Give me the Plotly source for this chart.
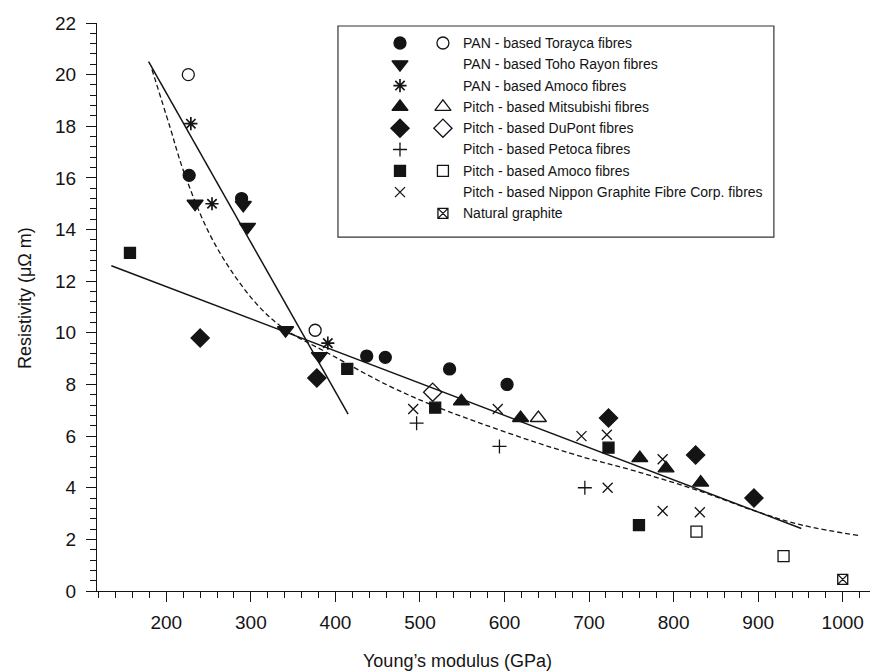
import plotly.graph_objects as go

# ---------------- data ----------------
torayca_x = [227, 289, 437, 459, 535, 603]
torayca_y = [16.1, 15.2, 9.1, 9.05, 8.6, 8.0]
torayca_open_x = [226, 376]
torayca_open_y = [20.0, 10.1]

toho_x = [234, 291, 296, 341, 381]
toho_y = [15.0, 14.95, 14.1, 10.1, 9.1]

pan_amoco_x = [229, 254, 391]
pan_amoco_y = [18.1, 15.0, 9.6]

mitsu_x = [549, 619, 760, 791, 832]
mitsu_y = [7.35, 6.7, 5.15, 4.75, 4.2]
mitsu_open_x = [640]
mitsu_open_y = [6.7]

dupont_x = [240, 378, 723, 826, 895]
dupont_y = [9.8, 8.25, 6.7, 5.27, 3.6]
dupont_open_x = [515]
dupont_open_y = [7.7]

petoca_x = [496, 594, 695]
petoca_y = [6.5, 5.6, 4.0]

pitch_amoco_x = [157, 414, 518, 723, 759]
pitch_amoco_y = [13.1, 8.6, 7.1, 5.55, 2.55]
pitch_amoco_open_x = [827, 930]
pitch_amoco_open_y = [2.3, 1.35]

nippon_x = [492, 592, 691, 721, 722, 787, 787, 831]
nippon_y = [7.05, 7.05, 6.0, 6.05, 4.0, 5.1, 3.1, 3.05]

graphite_x = [1000]
graphite_y = [0.45]

# fitted lines
steep_x = [179, 415]
steep_y = [20.5, 6.85]
shallow_x = [135, 951]
shallow_y = [12.6, 2.42]
dashed_x = [183, 204, 220, 250, 281, 313, 342, 392, 463, 534, 676, 754, 833, 896, 952, 1019]
dashed_y = [20.2, 18.0, 16.3, 13.9, 12.2, 10.9, 10.1, 9.2, 7.95, 6.95, 5.35, 4.65, 3.85, 3.1, 2.55, 2.15]

x_ticks = [200, 300, 400, 500, 600, 700, 800, 900, 1000]
y_ticks = [0, 2, 4, 6, 8, 10, 12, 14, 16, 18, 20, 22]

legend_rows = [
    ("circle", "circle-open", "PAN - based Torayca fibres"),
    ("triangle-down", None, "PAN - based Toho Rayon fibres"),
    ("asterisk-open", None, "PAN - based Amoco fibres"),
    ("triangle-up", "triangle-up-open", "Pitch - based Mitsubishi fibres"),
    ("diamond", "diamond-open", "Pitch - based DuPont fibres"),
    ("cross-thin-open", None, "Pitch - based Petoca fibres"),
    ("square", "square-open", "Pitch - based Amoco fibres"),
    ("x-thin-open", None, "Pitch - based Nippon Graphite Fibre Corp. fibres"),
    (None, "square-x-open", "Natural graphite"),
]

INK = "#141414"
FONT = "Liberation Sans, Arial, Helvetica, sans-serif"

SIZES = {
    "circle": 12, "circle-open": 12, "triangle-down": 14, "asterisk-open": 11,
    "triangle-up": 14, "triangle-up-open": 14, "diamond": 14, "diamond-open": 14,
    "cross-thin-open": 10, "square": 11, "square-open": 11, "x-thin-open": 10,
    "square-x-open": 10,
}
WIDTHS = {"asterisk-open": 1.7}


def marker(sym):
    return dict(symbol=sym, size=SIZES[sym], color=INK,
                line=dict(color=INK, width=WIDTHS.get(sym, 1.3)))


fig = go.Figure()

# fitted lines
fig.add_trace(go.Scatter(x=steep_x, y=steep_y, mode="lines",
                         line=dict(color=INK, width=1.5)))
fig.add_trace(go.Scatter(x=shallow_x, y=shallow_y, mode="lines",
                         line=dict(color=INK, width=1.5)))
fig.add_trace(go.Scatter(x=dashed_x, y=dashed_y, mode="lines",
                         line=dict(color=INK, width=1.3, dash="5px,3px", shape="spline",
                                   smoothing=1.0)))

series = [
    (torayca_x, torayca_y, "circle"),
    (torayca_open_x, torayca_open_y, "circle-open"),
    (toho_x, toho_y, "triangle-down"),
    (pan_amoco_x, pan_amoco_y, "asterisk-open"),
    (mitsu_x, mitsu_y, "triangle-up"),
    (mitsu_open_x, mitsu_open_y, "triangle-up-open"),
    (dupont_x, dupont_y, "diamond"),
    (dupont_open_x, dupont_open_y, "diamond-open"),
    (petoca_x, petoca_y, "cross-thin-open"),
    (pitch_amoco_x, pitch_amoco_y, "square"),
    (pitch_amoco_open_x, pitch_amoco_open_y, "square-open"),
    (nippon_x, nippon_y, "x-thin-open"),
    (graphite_x, graphite_y, "square-x-open"),
]
for xs, ys, sym in series:
    fig.add_trace(go.Scatter(x=xs, y=ys, mode="markers", marker=marker(sym),
                             cliponaxis=False))

# ---------------- custom legend (overlay axes in plot-fraction units) ----------------
LEG_FILLED_X = 0.3845
LEG_OPEN_X = 0.439
LEG_TEXT_X = 0.462
LEG_TOP_Y = 0.9648
LEG_STEP = 0.0375

for i, (fsym, osym, label) in enumerate(legend_rows):
    yy = LEG_TOP_Y - i * LEG_STEP
    if fsym:
        fig.add_trace(go.Scatter(x=[LEG_FILLED_X], y=[yy], mode="markers",
                                 marker=marker(fsym), xaxis="x2", yaxis="y2",
                                 cliponaxis=False))
    if osym:
        fig.add_trace(go.Scatter(x=[LEG_OPEN_X], y=[yy], mode="markers",
                                 marker=marker(osym), xaxis="x2", yaxis="y2",
                                 cliponaxis=False))
    fig.add_annotation(x=LEG_TEXT_X, y=yy, xref="paper", yref="paper", text=label,
                       showarrow=False, xanchor="left", yanchor="middle",
                       font=dict(family=FONT, size=14, color=INK))

fig.add_shape(type="rect", xref="paper", yref="paper", x0=0.3058, x1=0.859,
              y0=0.623, y1=0.9947, line=dict(color="#333333", width=1.2),
              fillcolor="rgba(0,0,0,0)")

# axis titles
fig.add_annotation(x=(449 - 89) / 788, y=-(653 - 583) / 568, xref="paper", yref="paper",
                   text="Young’s modulus (GPa)", showarrow=False,
                   xanchor="center", yanchor="middle",
                   font=dict(family=FONT, size=18, color=INK))
fig.add_annotation(x=-(89 - 17) / 788, y=(583 - 290) / 568, xref="paper", yref="paper",
                   text="Resistivity (μΩ m)", showarrow=False, textangle=-90,
                   xanchor="center", yanchor="middle",
                   font=dict(family=FONT, size=18, color=INK))

fig.update_layout(
    width=878, height=672,
    margin=dict(l=89, r=1, t=15, b=89),
    paper_bgcolor="white", plot_bgcolor="white",
    showlegend=False,
    font=dict(family=FONT, size=19, color=INK),
    xaxis=dict(range=[118, 1050], tickmode="array", tickvals=x_ticks,
               showgrid=False, zeroline=False, showline=True, linecolor=INK, linewidth=1.3,
               ticks="outside", ticklen=10, tickwidth=1.2, tickcolor=INK,
               ticklabelstandoff=4,
               minor=dict(dtick=20, tick0=0, ticks="outside", ticklen=6, tickwidth=1,
                          tickcolor=INK, showgrid=False)),
    yaxis=dict(range=[0, 22], tickmode="array", tickvals=y_ticks,
               showgrid=False, zeroline=False, showline=True, linecolor=INK, linewidth=1.3,
               ticks="outside", ticklen=10, tickwidth=1.2, tickcolor=INK,
               ticklabelstandoff=6,
               minor=dict(dtick=0.4, tick0=0, ticks="outside", ticklen=6, tickwidth=1,
                          tickcolor=INK, showgrid=False)),
    xaxis2=dict(overlaying="x", range=[0, 1], visible=False),
    yaxis2=dict(overlaying="y", range=[0, 1], visible=False),
)

fig.write_html("out.html")
